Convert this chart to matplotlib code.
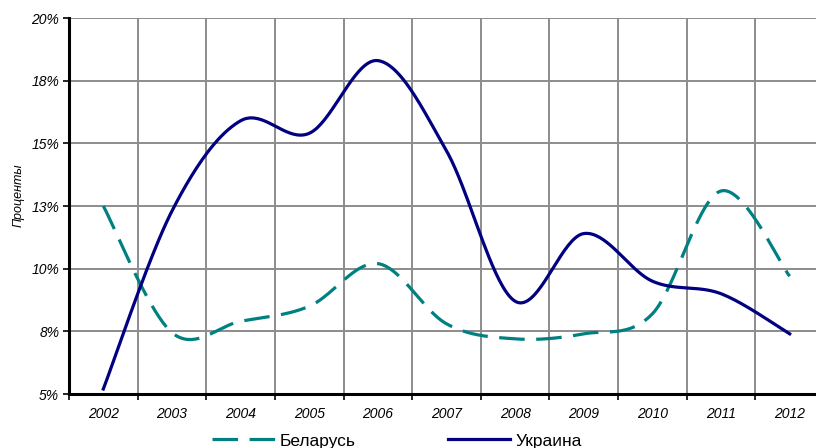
import numpy as np
import matplotlib
matplotlib.use("Agg")
import matplotlib.pyplot as plt
from matplotlib.ticker import FixedLocator, FuncFormatter

years = ['2002', '2003', '2004', '2005', '2006', '2007', '2008', '2009', '2010', '2011', '2012']
belarus = [12.5, 7.45, 7.9, 8.5, 10.2, 7.8, 7.2, 7.4, 8.2, 13.1, 9.7]
ukraine = [5.2, 12.3, 15.9, 15.4, 18.3, 14.7, 8.7, 11.4, 9.5, 9.0, 7.4]
y_ticks = [5, 7.5, 10, 12.5, 15, 17.5, 20]

plt.rcParams['font.family'] = ['Liberation Sans', 'DejaVu Sans']


def smooth(x, y, n=40):
    # excel-like smoothing: catmull-rom as cubic bezier
    x = np.asarray(x, float)
    y = np.asarray(y, float)
    px = np.concatenate([[x[0]], x, [x[-1]]])
    py = np.concatenate([[y[0]], y, [y[-1]]])
    xs, ys = [], []
    t = np.linspace(0, 1, n)
    for i in range(1, len(px) - 2):
        p0 = np.array([px[i], py[i]])
        p3 = np.array([px[i + 1], py[i + 1]])
        p1 = p0 + (np.array([px[i + 1], py[i + 1]]) - np.array([px[i - 1], py[i - 1]])) / 6
        p2 = p3 - (np.array([px[i + 2], py[i + 2]]) - np.array([px[i], py[i]])) / 6
        b = ((1 - t) ** 3)[:, None] * p0 + (3 * (1 - t) ** 2 * t)[:, None] * p1 \
            + (3 * (1 - t) * t ** 2)[:, None] * p2 + (t ** 3)[:, None] * p3
        xs.extend(b[:, 0])
        ys.extend(b[:, 1])
    return np.array(xs), np.array(ys)


fig = plt.figure(figsize=(8.16, 4.48), dpi=100)
ax = fig.add_axes([69 / 816, 1 - 394 / 448, 755 / 816, 376 / 448])

x = np.arange(len(years))
bx, by = smooth(x, belarus)
ux, uy = smooth(x, ukraine)
ax.plot(bx, by, color='#008080', lw=2.3, dashes=(8, 3.6), solid_capstyle='butt',
        dash_capstyle='butt', label='Беларусь', zorder=3)
ax.plot(ux, uy, color='#000080', lw=2.3, label='Украина', zorder=3)

ax.set_xlim(-0.5, len(years) - 0.5)
ax.set_ylim(5, 20)
ax.yaxis.set_major_locator(FixedLocator(y_ticks))
ax.yaxis.set_major_formatter(FuncFormatter(lambda v, p: '%d%%' % int(v + 0.5)))
ax.set_xticks(x)
ax.set_xticklabels(years, fontsize=10, style='italic')
ax.set_xticks(np.arange(len(years) + 1) - 0.5, minor=True)
ax.tick_params(axis='x', which='major', length=0, pad=9)
ax.tick_params(axis='x', which='minor', length=4, width=1.2, direction='out')
ax.tick_params(axis='y', length=4, width=1.2, labelsize=10, pad=3)
for lab in ax.get_yticklabels():
    lab.set_style('italic')

ax.grid(True, which='minor', axis='x', color='#8c8c8c', lw=1.4)
ax.grid(True, which='major', axis='y', color='#8c8c8c', lw=1.4)
ax.set_axisbelow(True)
for s in ['top', 'right']:
    ax.spines[s].set_visible(False)
for s in ['left', 'bottom']:
    ax.spines[s].set_linewidth(2.2)
    ax.spines[s].set_zorder(4)

ax.set_ylabel('Проценты', fontsize=9, style='italic')
ax.yaxis.set_label_coords(-0.059, 0.53)

fig.legend(loc='center', bbox_to_anchor=(397 / 816, 1 - 441 / 448), ncol=2, frameon=False,
           fontsize=12.5, handlelength=3.6, handletextpad=0.3, columnspacing=5.3)

fig.savefig('out.png', dpi=100)
